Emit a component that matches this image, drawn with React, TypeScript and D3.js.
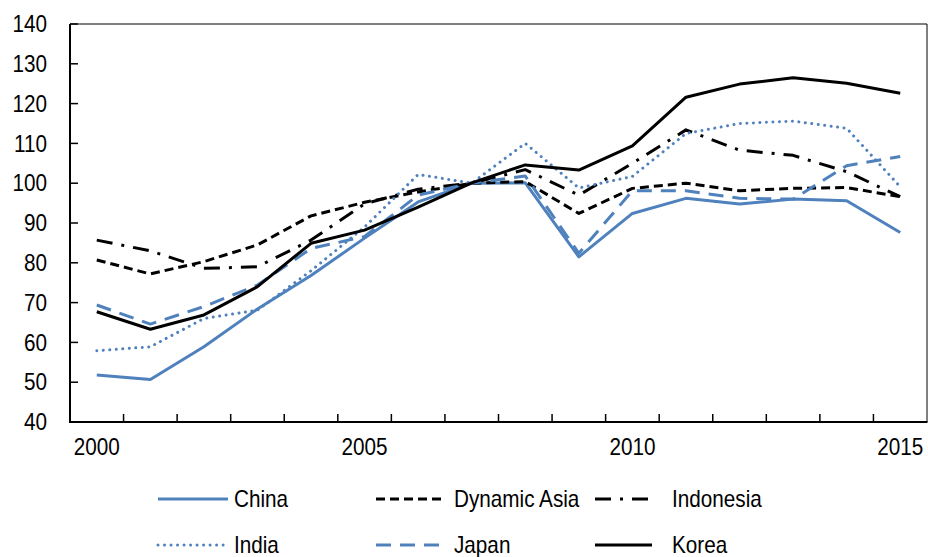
import React from "react";
import * as d3 from "d3";

const years = [2000, 2001, 2002, 2003, 2004, 2005, 2006, 2007, 2008, 2009, 2010, 2011, 2012, 2013, 2014, 2015];
const xLabels = [2000, 2005, 2010, 2015];
const yTicks = [40, 50, 60, 70, 80, 90, 100, 110, 120, 130, 140];

const china = [51.8, 50.7, 58.9, 68.4, 76.8, 86.2, 95.3, 100.0, 100.1, 81.5, 92.4, 96.2, 94.8, 96.0, 95.6, 87.6];
const dynamicAsia = [80.7, 77.2, 80.3, 84.5, 91.8, 95.2, 97.8, 100.0, 100.4, 92.4, 98.7, 100.0, 98.1, 98.7, 98.9, 96.6];
const indonesia = [85.7, 83.0, 78.6, 79.0, 85.7, 94.8, 98.5, 100.0, 103.4, 97.0, 105.0, 113.4, 108.3, 107.0, 102.9, 96.6];
const india = [57.9, 58.9, 66.0, 68.1, 78.0, 89.0, 102.2, 100.0, 110.0, 98.8, 101.7, 112.5, 115.0, 115.6, 113.8, 99.1];
const japan = [69.4, 64.6, 69.0, 74.4, 83.6, 86.6, 97.0, 100.0, 101.8, 82.4, 98.1, 98.1, 96.2, 96.0, 104.4, 106.7];
const korea = [67.7, 63.3, 66.9, 74.0, 84.9, 88.2, 94.0, 100.1, 104.6, 103.3, 109.4, 121.6, 124.9, 126.5, 125.1, 122.6];

const BLUE = "#4F81BD";
const FONT = "'Liberation Sans', Arial, sans-serif";
const FS = 23;
const SX = 0.9;

const seriesList = [
  { name: "China", values: china, color: BLUE, dash: "", cap: "butt" },
  { name: "Dynamic Asia", values: dynamicAsia, color: "#000", dash: "9,5", cap: "butt" },
  { name: "Indonesia", values: indonesia, color: "#000", dash: "16,9,3,9", cap: "butt" },
  { name: "India", values: india, color: BLUE, dash: "0.01,6.5", cap: "round" },
  { name: "Japan", values: japan, color: BLUE, dash: "15,9", cap: "butt" },
  { name: "Korea", values: korea, color: "#000", dash: "", cap: "butt" },
];

const legendRows = [
  { y: 499, items: [0, 1, 2] },
  { y: 545, items: [3, 4, 5] },
];
const legendCols = [
  { x0: 158, x1: 228, tx: 234 },
  { x0: 376, x1: 446, tx: 454 },
  { x0: 595, x1: 652, tx: 672 },
];

function T({ x, y, anchor, children, dy }: { x: number; y: number; anchor?: string; children: any; dy?: string }) {
  return (
    <text
      transform={`translate(${x},${y}) scale(${SX},1)`}
      dy={dy}
      textAnchor={anchor || "start"}
      fontSize={FS}
      fill="#000"
    >
      {children}
    </text>
  );
}

export default function App() {
  const W = 928, H = 557;
  const left = 70, right = 927, top = 24, bottom = 422;
  const x = d3.scaleBand<number>().domain(years).range([left, right]).padding(0);
  const y = d3.scaleLinear().domain([40, 140]).range([bottom, top]);
  const cx = (yr: number) => (x(yr) as number) + x.bandwidth() / 2;
  const line = d3
    .line<number>()
    .x((_, i) => cx(years[i]))
    .y((v) => y(v));

  return (
    <svg width={W} height={H} style={{ position: "absolute", left: 0, top: 0, background: "#fff" }} fontFamily={FONT}>
      {/* frame */}
      <line x1={left} x2={right} y1={top} y2={top} stroke="#000" strokeWidth={1} />
      <line x1={right} x2={right} y1={top} y2={bottom} stroke="#000" strokeWidth={1} />
      {/* y ticks */}
      {yTicks.map((t) => (
        <g key={t}>
          <line x1={left} x2={left + 8} y1={y(t)} y2={y(t)} stroke="#000" strokeWidth={1.5} />
          <T x={47} y={y(t)} dy="0.36em" anchor="end">
            {t}
          </T>
        </g>
      ))}
      {/* x ticks at band boundaries */}
      {years.slice(1).map((yr) => (
        <line key={yr} x1={x(yr) as number} x2={x(yr) as number} y1={bottom} y2={bottom - 8} stroke="#000" strokeWidth={1.5} />
      ))}
      {xLabels.map((yr) => (
        <T key={yr} x={cx(yr)} y={455} anchor="middle">
          {yr}
        </T>
      ))}
      {/* series */}
      {seriesList.map((s) => (
        <path
          key={s.name}
          d={line(s.values) as string}
          fill="none"
          stroke={s.color}
          strokeWidth={3}
          strokeDasharray={s.dash || undefined}
          strokeLinecap={s.cap as any}
          strokeLinejoin="round"
        />
      ))}
      {/* axes */}
      <line x1={left} x2={left} y1={top} y2={bottom + 1} stroke="#000" strokeWidth={2} />
      <line x1={left - 1} x2={right + 0.5} y1={bottom} y2={bottom} stroke="#000" strokeWidth={2} />
      {/* legend */}
      {legendRows.map((row) =>
        row.items.map((si, ci) => {
          const s = seriesList[si];
          const c = legendCols[ci];
          return (
            <g key={s.name}>
              <line
                x1={c.x0}
                x2={c.x1}
                y1={row.y}
                y2={row.y}
                stroke={s.color}
                strokeWidth={3}
                strokeDasharray={s.dash || undefined}
                strokeLinecap={s.cap as any}
              />
              <T x={c.tx} y={row.y} dy="0.36em">
                {s.name}
              </T>
            </g>
          );
        })
      )}
    </svg>
  );
}
